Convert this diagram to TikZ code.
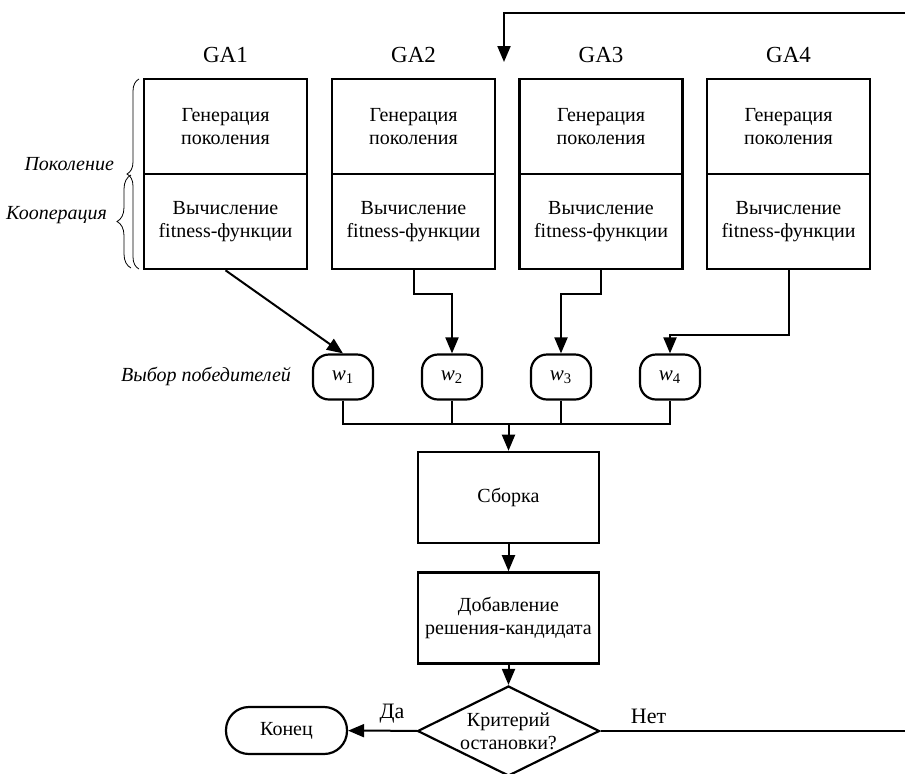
\documentclass[tikz,border=0pt]{standalone}
\usepackage{fontspec}
\setmainfont{Liberation Serif}
\usepackage{tikz}
\usepackage{xcolor}
\usetikzlibrary{arrows.meta,shapes.geometric,decorations.pathreplacing}
\definecolor{flowink}{RGB}{0,0,0}

\tikzset{
  gabox/.style={draw=flowink, line width=1.3pt, minimum width=81.5pt, minimum height=47.5pt, inner sep=0pt, align=center, font=\fontsize{10}{11.5}\selectfont},
  galabel/.style={font=\fontsize{11.5}{13}\selectfont},
  winner/.style={draw=flowink, line width=1.1pt, rounded corners=8pt, minimum width=30pt, minimum height=22.5pt, inner sep=0pt, font=\fontsize{10.5}{12}\selectfont},
  stepbox/.style={draw=flowink, line width=1.3pt, minimum width=90.5pt, minimum height=45.5pt, inner sep=0pt, align=center, font=\fontsize{10}{11.5}\selectfont},
  decision/.style={draw=flowink, line width=1.1pt, shape=diamond, aspect=2, minimum width=91pt, minimum height=45pt, inner sep=-3pt, align=center, font=\fontsize{10}{11.5}\selectfont},
  terminal/.style={draw=flowink, line width=1.1pt, rounded corners=11.5pt, minimum width=60.5pt, minimum height=23.5pt, inner sep=0pt, font=\fontsize{10}{11.5}\selectfont},
  sidelabel/.style={font=\fontsize{10}{11.5}\selectfont\itshape},
  answer/.style={font=\fontsize{11}{12.5}\selectfont},
  flowline/.style={draw=flowink, line width=1pt},
  arr/.style={flowline, -{Triangle[length=8pt,width=6.5pt]}},
  bracket/.style={draw=flowink, line width=0.4pt, decorate, decoration={brace, amplitude=#1}}
}

\begin{document}
\begin{tikzpicture}[x=0.5pt,y=-0.5pt]
\useasboundingbox (0,0) rectangle (905,773);

\foreach \i/\x in {1/225.5,2/413.5,3/601,4/788.5}{
  \node[galabel] (ga\i) at (\x,55) {GA\i};
  \node[gabox] (gen\i) at (\x,126.5) {Генерация\\поколения};
  \node[gabox] (fit\i) at (\x,221.5) {Вычисление\\fitness-функции};
}

\draw[bracket=6pt] (139,269) -- (139,79);
\draw[bracket=7pt] (131,268) -- (131,175);
\node[sidelabel, anchor=east] (lblgen) at (121,164) {Поколение};
\node[sidelabel, anchor=east] (lblcoop) at (114,215) {Кооперация};

\foreach \i/\x in {1/343,2/452,3/561,4/670}
  \node[winner] (w\i) at (\x,377) {{\itshape w}\textsubscript{\i}};
\node[sidelabel, anchor=east] (lblwin) at (298,376) {Выбор победителей};

\node[stepbox] (build) at (508.5,497.5) {Сборка};
\node[stepbox] (addsol) at (508.5,618) {Добавление\\решения-кандидата};
\node[decision] (check) at (508.5,731) {Критерий\\остановки?};
\node[terminal] (finish) at (286.5,730.5) {Конец};

\draw[arr] (fit1.south) -- (w1.north);
\draw[arr] (fit2.south) -- ++(0,24) -| (w2.north);
\draw[arr] (fit3.south) -- ++(0,24) -| (w3.north);
\draw[arr] (fit4.south) -- ++(0,65) -| (w4.north);

\coordinate (join) at (508.5,424);
\draw[flowline] (w1.south) |- (join) -| (w4.south);
\draw[flowline] (w2.south) -- (w2.south |- join);
\draw[flowline] (w3.south) -- (w3.south |- join);
\draw[arr] (join) -- (build);
\draw[arr] (build) -- (addsol);
\draw[arr] (addsol) -- (check);

\draw[arr] (check) -- node[pos=0.36, above=0pt, answer] (yes) {Да} (finish);
\coordinate (loopin) at (504,62);
\draw[arr] (check.east) -- node[pos=0.15, above=0pt, answer] (no) {Нет} (920,731) -- (920,13) -| (loopin);
\end{tikzpicture}
\end{document}
